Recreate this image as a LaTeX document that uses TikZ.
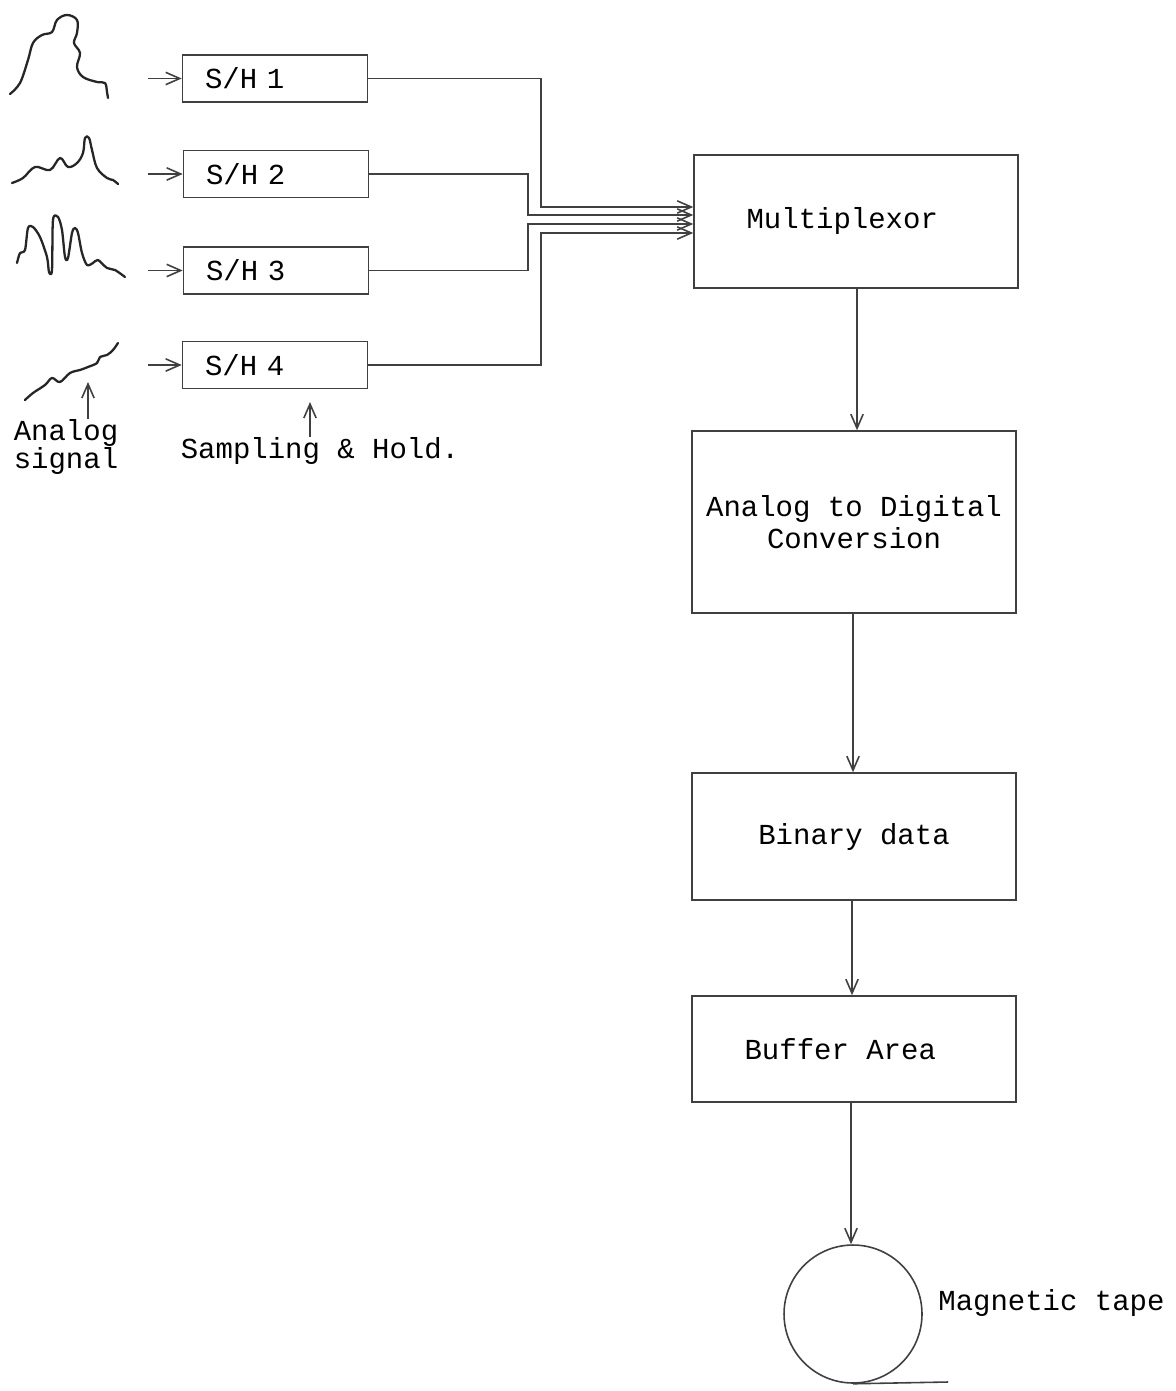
\documentclass[tikz,border=0pt]{standalone}
\usepackage{fontspec}
\newfontfamily\tw{Liberation Mono}
\usetikzlibrary{arrows.meta}
\begin{document}
\begin{tikzpicture}[x=0.02cm,y=-0.02cm,
  ln/.style={draw=black!75,line width=0.9pt},
  arr/.style={ln,-{Straight Barb[length=8pt,width=7pt]}},
  sig/.style={draw=black!85,line width=1.3pt,line cap=round,line join=round},
  shbox/.style={ln,rectangle,minimum width=3.7cm,minimum height=0.94cm,text width=2.8cm,inner xsep=0.45cm,align=left,font=\tw\fontsize{16.5}{20}\selectfont},
  bigbox/.style={ln,rectangle,minimum width=6.48cm,align=center,font=\tw\fontsize{16.5}{18}\selectfont},
  lbl/.style={align=center,inner sep=0pt,font=\tw\fontsize{16.5}{14}\selectfont}]
\useasboundingbox[fill=white] (0,0) rectangle (1175,1391);

% analog signals
\draw[sig] plot[smooth,tension=0.6] coordinates {(10,94) (20,83) (28,60) (33,43) (42,35) (52,32) (57,20) (67,15) (77,20) (77,33) (74,43) (80,53) (77,67) (83,77) (97,82) (105,83) (107,92) (108,98)};
\draw[sig] plot[smooth,tension=0.6] coordinates {(12,183) (23,178) (35,167) (50,170) (60,158) (68,167) (77,163) (83,153) (85,138) (89,138) (92,150) (97,168) (107,178) (113,180) (118,184)};
\draw[sig] plot[smooth,tension=0.5] coordinates {(17,263) (20,253) (25,250) (28,228) (33,227) (40,237) (47,257) (49,272) (52,270) (53,220) (58,217) (62,230) (65,257) (68,258) (72,233) (75,228) (78,233) (82,253) (87,265) (93,263) (98,260) (107,268) (115,270) (125,277)};
\draw[sig] plot[smooth,tension=0.6] coordinates {(25,400) (33,393) (45,385) (52,378) (60,382) (70,373) (80,370) (88,367) (97,363) (100,357) (107,355) (113,350) (118,343)};

% S/H boxes
\node[shbox] (sh1) at (275,78.5) {S/H\ 1};
\node[shbox] (sh2) at (276,174) {S/H\ 2};
\node[shbox] (sh3) at (276,270.5) {S/H\ 3};
\node[shbox] (sh4) at (275,365) {S/H\ 4};

% input arrows
\coordinate (in1) at (148,78.5);
\coordinate (in2) at (148,174);
\coordinate (in3) at (148,270.5);
\coordinate (in4) at (148,365);
\draw[arr] (in1) -- (sh1.west);
\draw[arr] (in2) -- (sh2.west);
\draw[arr] (in3) -- (sh3.west);
\draw[arr] (in4) -- (sh4.west);

% labels under signals
\node[lbl] (alab) at (66,447) {Analog\\signal};
\coordinate (aup) at (88,382);
\draw[arr] (alab.north -| aup) -- (aup);
\node[lbl] (shlab) at (320,451) {Sampling \& Hold.};
\coordinate (shup) at (310,402);
\draw[arr] (shlab.north -| shup) -- (shup);

% multiplexor
\node[bigbox,minimum height=2.66cm] (mux) at (856,221.5) {\hspace*{-0.55cm}Multiplexor};
\coordinate (j1) at (541,207);
\coordinate (j2) at (528,215);
\coordinate (j3) at (528,224);
\coordinate (j4) at (541,233);
\draw[arr] (sh1.east) -| (j1) -- (j1 -| mux.west);
\draw[arr] (sh2.east) -| (j2) -- (j2 -| mux.west);
\draw[arr] (sh3.east) -| (j3) -- (j3 -| mux.west);
\draw[arr] (sh4.east) -| (j4) -- (j4 -| mux.west);

% chain
\node[bigbox,minimum height=3.64cm] (adc) at (854,522) {Analog to Digital\\Conversion};
\node[bigbox,minimum height=2.54cm] (bin) at (854,836.5) {Binary data};
\node[bigbox,minimum height=2.12cm] (buf) at (854,1049) {\hspace*{-0.55cm}Buffer Area};
\node[ln,circle,minimum size=2.76cm,inner sep=0pt] (tape) at (853,1314) {};
\node[lbl,anchor=west] (tapelab) at (938,1303) {Magnetic tape};
\coordinate (tapeend) at (948,1382);

\draw[arr] (mux.south -| 857,0) -- (adc.north -| 857,0);
\draw[arr] (adc.south -| 853,0) -- (bin.north -| 853,0);
\draw[arr] (bin.south -| 852,0) -- (buf.north -| 852,0);
\draw[arr] (buf.south -| 851,0) -- (tape.north -| 851,0);
\draw[ln] (tape.south) -- (tapeend);
\end{tikzpicture}
\end{document}
